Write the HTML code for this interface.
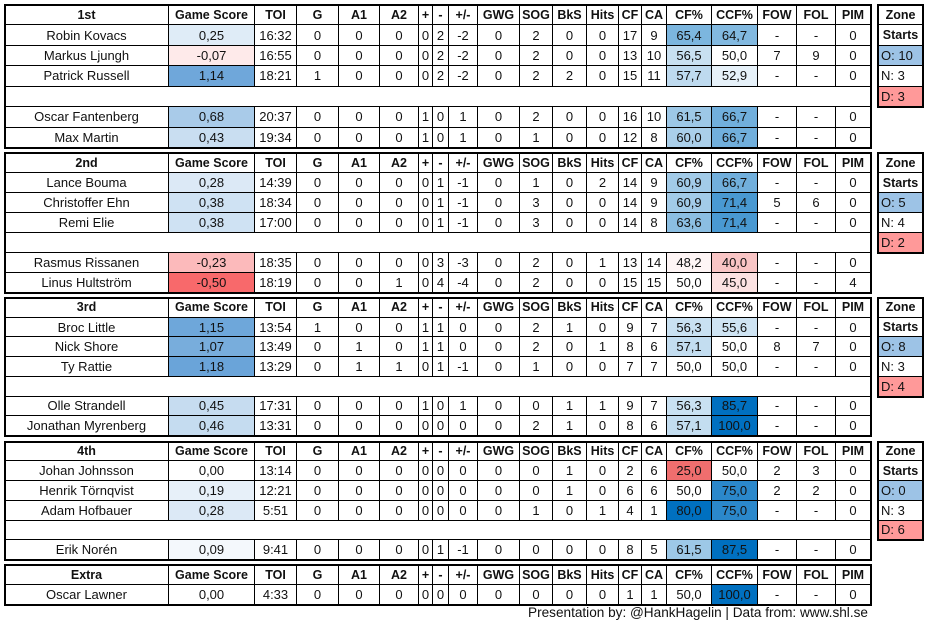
<!DOCTYPE html>
<html><head><meta charset="utf-8">
<style>
html,body{margin:0;padding:0;background:#fff;}
body{width:930px;height:630px;position:relative;overflow:hidden;font-family:"Liberation Sans",sans-serif;color:#111;}
.c{position:absolute;box-sizing:border-box;display:flex;align-items:center;justify-content:center;font-size:13px;white-space:nowrap;border-right:1px solid #000;border-bottom:1px solid #000;}
.h{font-weight:bold;font-size:12.5px;}
.blk{position:absolute;box-sizing:border-box;border:2.5px solid #000;pointer-events:none;}
.zl{justify-content:flex-start;padding-left:3px;}
#foot{position:absolute;left:528px;top:605px;font-size:13.6px;}
</style></head>
<body>
<div id="root"></div>
<div id="foot">Presentation by: @HankHagelin | Data from: www.shl.se</div>
<script>
const headers=["Game Score","TOI","G","A1","A2","+","-","+/-","GWG","SOG","BkS","Hits","CF","CA","CF%","CCF%","FOW","FOL","PIM"];
const blockTitles=["1st","2nd","3rd","4th","Extra"];
const block1=[
["Robin Kovacs","0,25","16:32","0","0","0","0","2","-2","0","2","0","0","17","9","65,4","64,7","-","-","0"],
["Markus Ljungh","-0,07","16:55","0","0","0","0","2","-2","0","2","0","0","13","10","56,5","50,0","7","9","0"],
["Patrick Russell","1,14","18:21","1","0","0","0","2","-2","0","2","2","0","15","11","57,7","52,9","-","-","0"],
null,
["Oscar Fantenberg","0,68","20:37","0","0","0","1","0","1","0","2","0","0","16","10","61,5","66,7","-","-","0"],
["Max Martin","0,43","19:34","0","0","0","1","0","1","0","1","0","0","12","8","60,0","66,7","-","-","0"]];
const block2=[
["Lance Bouma","0,28","14:39","0","0","0","0","1","-1","0","1","0","2","14","9","60,9","66,7","-","-","0"],
["Christoffer Ehn","0,38","18:34","0","0","0","0","1","-1","0","3","0","0","14","9","60,9","71,4","5","6","0"],
["Remi Elie","0,38","17:00","0","0","0","0","1","-1","0","3","0","0","14","8","63,6","71,4","-","-","0"],
null,
["Rasmus Rissanen","-0,23","18:35","0","0","0","0","3","-3","0","2","0","1","13","14","48,2","40,0","-","-","0"],
["Linus Hultström","-0,50","18:19","0","0","1","0","4","-4","0","2","0","0","15","15","50,0","45,0","-","-","4"]];
const block3=[
["Broc Little","1,15","13:54","1","0","0","1","1","0","0","2","1","0","9","7","56,3","55,6","-","-","0"],
["Nick Shore","1,07","13:49","0","1","0","1","1","0","0","2","0","1","8","6","57,1","50,0","8","7","0"],
["Ty Rattie","1,18","13:29","0","1","1","0","1","-1","0","1","0","0","7","7","50,0","50,0","-","-","0"],
null,
["Olle Strandell","0,45","17:31","0","0","0","1","0","1","0","0","1","1","9","7","56,3","85,7","-","-","0"],
["Jonathan Myrenberg","0,46","13:31","0","0","0","0","0","0","0","2","1","0","8","6","57,1","100,0","-","-","0"]];
const block4=[
["Johan Johnsson","0,00","13:14","0","0","0","0","0","0","0","0","1","0","2","6","25,0","50,0","2","3","0"],
["Henrik Törnqvist","0,19","12:21","0","0","0","0","0","0","0","0","1","0","6","6","50,0","75,0","2","2","0"],
["Adam Hofbauer","0,28","5:51","0","0","0","0","0","0","0","1","0","1","4","1","80,0","75,0","-","-","0"],
null,
["Erik Norén","0,09","9:41","0","0","0","0","1","-1","0","0","0","0","8","5","61,5","87,5","-","-","0"]];
const block5=[
["Oscar Lawner","0,00","4:33","0","0","0","0","0","0","0","0","0","0","1","1","50,0","100,0","-","-","0"]];
const zoneO=[10,5,8,0];
const zoneN=[3,4,3,3];
const zoneD=[3,2,4,6];

const blocks=[block1,block2,block3,block4,block5];
const colX=[5,169,255,297,339,380,419,433,449,478,520,553,587,619,642,667,712,758,797,836,871];
const blockTop=[5,153,298,441.5,565];
const blockBot=[148,293,436,560,605];
const root=document.getElementById('root');

function mix(a,t){t=Math.max(0,Math.min(1,t));return 'rgb('+a.map(x=>Math.round(255-(255-x)*t)).join(',')+')';}
function num(s){return parseFloat(s.replace(',','.'));}
function gsColor(v){if(v>0)return mix([91,155,213],v/1.3);if(v<0)return mix([248,105,107],-v/0.5);return '#fff';}
function pctColor(v){if(v>50)return mix([0,112,192],(v-50)/30);if(v<50)return mix([240,110,110],(50-v)/25);return '#fff';}

function cell(x,y,w,h,txt,cls){
  const d=document.createElement('div');
  d.className='c '+(cls||'');
  d.style.left=x+'px';d.style.top=y+'px';d.style.width=w+'px';d.style.height=h+'px';
  d.textContent=txt;
  root.appendChild(d);
  return d;
}

blocks.forEach((rows,b)=>{
  const top=blockTop[b],bot=blockBot[b];
  const n=rows.length+1;
  const rh=(bot-top)/n;
  const hdr=[blockTitles[b]].concat(headers);
  for(let i=0;i<hdr.length;i++){
    const d=cell(colX[i],top,colX[i+1]-colX[i],rh,hdr[i],'h');
    
    
  }
  rows.forEach((r,ri)=>{
    const y=top+rh*(ri+1);
    if(!r){
      const d=cell(colX[0],y,colX[colX.length-1]-colX[0],rh,'','');
      
      
      return;
    }
    for(let i=0;i<r.length;i++){
      const d=cell(colX[i],y,colX[i+1]-colX[i],rh,r[i],'');
      if(i===1)d.style.background=gsColor(num(r[i]));
      if(i===15||i===16)d.style.background=pctColor(num(r[i]));
      
      
    }
  });
  const bx=document.createElement('div');
  bx.className='blk';
  bx.style.left='4px';bx.style.top=(top-1)+'px';bx.style.width='868px';bx.style.height=(bot-top+2)+'px';
  
  
  root.appendChild(bx);
  if(b<4){
    const zx=878,zw=45;
    const items=[['Zone','h','#fff'],['Starts','h','#fff'],['O: '+zoneO[b],'zl','#9dc3e6'],['N: '+zoneN[b],'zl','#fff'],['D: '+zoneD[b],'zl','#ff9999']];
    items.forEach((it,k)=>{
      const d=cell(zx,top+rh*k,zw,rh,it[0],it[1]);
      d.style.background=it[2];
      d.style.borderRight='none';
      
      
    });
    const zb=document.createElement('div');
    zb.className='blk';
    zb.style.left=(zx-1)+'px';zb.style.top=(top-1)+'px';zb.style.width=(zw+2)+'px';zb.style.height=(rh*5+2)+'px';
    
    
    root.appendChild(zb);
  }
});
</script>
</body></html>
